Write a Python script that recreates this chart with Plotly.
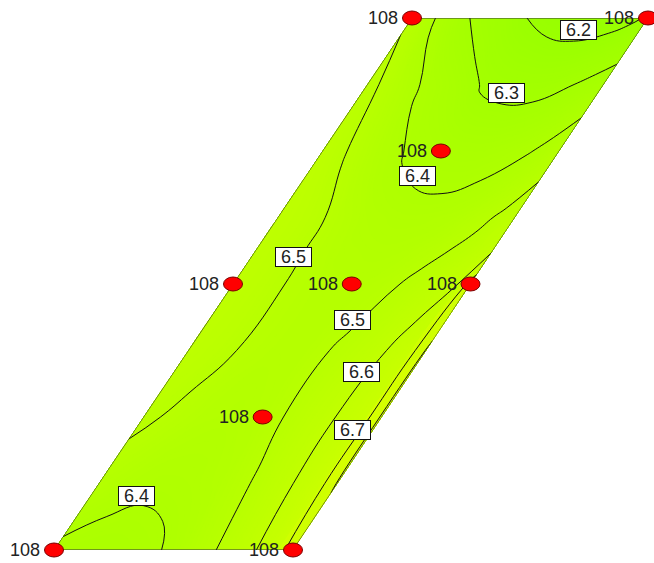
import numpy as np
import plotly.graph_objects as go

# ---- response surface over the constrained mixture region ----
# a runs along the base of the region (0 = left edge, 1 = right edge)
# b runs from the base (0) to the top (1)
a_vals = [0.0, 0.125, 0.25, 0.375, 0.5, 0.625, 0.75, 0.875, 0.9375, 1.0]
b_vals = [0.0, 0.125, 0.25, 0.375, 0.5, 0.5625, 0.625, 0.75, 0.875, 1.0]

# predicted response, one row per b value, one column per a value
z_b000 = [6.385, 6.370, 6.370, 6.385, 6.410, 6.470, 6.540, 6.620, 6.665, 6.740]
z_b125 = [6.460, 6.430, 6.415, 6.420, 6.445, 6.495, 6.560, 6.640, 6.680, 6.810]
z_b250 = [6.520, 6.485, 6.455, 6.445, 6.465, 6.515, 6.570, 6.640, 6.670, 6.820]
z_b375 = [6.550, 6.525, 6.485, 6.465, 6.470, 6.510, 6.555, 6.625, 6.660, 6.810]
z_b500 = [6.560, 6.530, 6.490, 6.465, 6.460, 6.475, 6.515, 6.565, 6.590, 6.740]
z_b562 = [6.560, 6.530, 6.485, 6.455, 6.445, 6.450, 6.480, 6.520, 6.550, 6.590]
z_b625 = [6.560, 6.530, 6.480, 6.440, 6.425, 6.425, 6.440, 6.485, 6.515, 6.550]
z_b750 = [6.550, 6.490, 6.430, 6.390, 6.370, 6.360, 6.370, 6.395, 6.420, 6.460]
z_b875 = [6.530, 6.454, 6.385, 6.340, 6.290, 6.275, 6.275, 6.300, 6.320, 6.340]
z_b1000 = [6.490, 6.377, 6.297, 6.245, 6.195, 6.170, 6.160, 6.170, 6.185, 6.210]
z_grid = [z_b000, z_b125, z_b250, z_b375, z_b500, z_b562, z_b625, z_b750, z_b875, z_b1000]

# design points (a, b) and their run labels
pt_a = [0.0, 1.0, 0.0, 0.5, 1.0, 0.5, 0.5, 0.0, 1.0]
pt_b = [0.0, 0.0, 0.5, 0.5, 0.5, 0.25, 0.75, 1.0, 1.0]
pt_label = ["108"] * 9

# contour level labels
lvl_text = ["6.2", "6.3", "6.4", "6.5", "6.5", "6.6", "6.7", "6.4"]
lvl_x = [578.5, 506.5, 417.5, 293.5, 352.5, 361.5, 352.0, 136.5]
lvl_y = [29.5, 93.0, 176.0, 257.0, 319.5, 371.5, 430.0, 496.0]

# corners of the region in plot units
X_BL, Y_BL = 54.0, 550.0
X_BR, Y_BR = 293.0, 550.0
X_TR, Y_TR = 648.0, 18.0
X_TL, Y_TL = 412.0, 18.0


def to_xy(a, b):
    a = np.asarray(a, dtype=float)
    b = np.asarray(b, dtype=float)
    xb = X_BL + a * (X_BR - X_BL)
    yb = Y_BL + a * (Y_BR - Y_BL)
    xt = X_TL + a * (X_TR - X_TL)
    yt = Y_TL + a * (Y_TR - Y_TL)
    return xb + b * (xt - xb), yb + b * (yt - yb)


A, B = np.meshgrid(a_vals, b_vals)
CX, CY = to_xy(A, B)

hidden_axis = dict(showgrid=False, showline=False, showticklabels="none",
                   startline=False, endline=False, minorgridcount=0,
                   gridcolor="rgba(0,0,0,0)", linecolor="rgba(0,0,0,0)",
                   title=dict(text=""))

fig = go.Figure()
fig.add_trace(go.Carpet(carpet="mix", a=a_vals, b=b_vals,
                        x=CX.tolist(), y=CY.tolist(),
                        aaxis=hidden_axis, baxis=hidden_axis))

colors = [[0.0, "rgb(150,255,0)"], [0.5, "rgb(184,255,0)"], [1.0, "rgb(216,255,0)"]]

# smooth colour shading
fig.add_trace(go.Contourcarpet(
    carpet="mix", a=a_vals, b=b_vals, z=z_grid,
    autocontour=False,
    contours=dict(start=6.10, end=6.90, size=0.005, coloring="fill"),
    line=dict(width=0, smoothing=1.3),
    colorscale=colors, zmin=6.15, zmax=6.85, showscale=False,
))

# contour lines every 0.1
fig.add_trace(go.Contourcarpet(
    carpet="mix", a=a_vals, b=b_vals, z=z_grid,
    autocontour=False,
    contours=dict(start=6.2, end=6.8, size=0.1, coloring="none"),
    line=dict(color="#111111", width=1, smoothing=1.3),
    showscale=False,
))

# region outline
fig.add_trace(go.Scattercarpet(
    carpet="mix", a=[0, 1, 1, 0, 0], b=[0, 0, 1, 1, 0],
    mode="lines", line=dict(color="#333333", width=1), hoverinfo="skip",
))

shapes = []
annotations = []
px, py = to_xy(pt_a, pt_b)
for x, y, lab in zip(px, py, pt_label):
    shapes.append(dict(type="circle", xref="x", yref="y",
                       x0=x - 9.5, x1=x + 9.5, y0=y - 7, y1=y + 7,
                       fillcolor="#ff0000", line=dict(color="#7a0000", width=1)))
    annotations.append(dict(x=x - 12, y=y, xref="x", yref="y", text=lab,
                            showarrow=False, xanchor="right", yanchor="middle",
                            font=dict(family="Liberation Sans, Arial", size=18,
                                      color="#222222")))

for t, x, y in zip(lvl_text, lvl_x, lvl_y):
    annotations.append(dict(x=x, y=y, xref="x", yref="y", text=t,
                            showarrow=False, xanchor="center", yanchor="middle",
                            width=33, height=16, borderpad=1,
                            bgcolor="white", bordercolor="#111111", borderwidth=1,
                            font=dict(family="Liberation Sans, Arial", size=18,
                                      color="#222222")))

fig.update_layout(
    width=654, height=563,
    margin=dict(l=0, r=0, t=0, b=0),
    paper_bgcolor="white", plot_bgcolor="white",
    showlegend=False,
    xaxis=dict(range=[0, 654], visible=False, fixedrange=True),
    yaxis=dict(range=[563, 0], visible=False, fixedrange=True),
    shapes=shapes, annotations=annotations,
)

fig.write_html("out.html")
